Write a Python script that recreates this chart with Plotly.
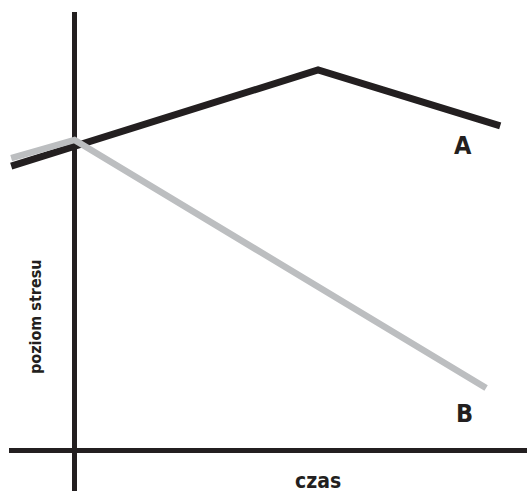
import plotly.graph_objects as go

# time (x) and stress level (y) in chart units
time_a = [-1.30, 5.00, 8.74]
stress_a = [7.47, 10.00, 8.53]
time_b = [-1.30, 0.00, 8.45]
stress_b = [7.68, 8.16, 1.63]
series_labels = ["A", "B"]
axis_titles = ["czas", "poziom stresu"]

BLACK = "#231f20"
GREY = "#bcbec0"
FONT = "DejaVu Sans Condensed, DejaVu Sans, sans-serif"

fig = go.Figure()
fig.add_trace(go.Scatter(x=time_a, y=stress_a, mode="lines",
                         line=dict(color=BLACK, width=7), cliponaxis=False,
                         hoverinfo="skip"))
fig.add_trace(go.Scatter(x=time_b, y=stress_b, mode="lines",
                         line=dict(color=GREY, width=6.5), cliponaxis=False,
                         hoverinfo="skip"))

fig.add_annotation(x=time_a[-1] - 0.76, y=stress_a[-1] - 0.53, text=series_labels[0],
                   showarrow=False, xanchor="center", yanchor="middle",
                   font=dict(family=FONT, size=25, color=BLACK, weight="bold"))
fig.add_annotation(x=time_b[-1] - 0.45, y=stress_b[-1] - 0.66, text=series_labels[1],
                   showarrow=False, xanchor="center", yanchor="middle",
                   font=dict(family=FONT, size=25, color=BLACK, weight="bold"))
fig.add_annotation(x=5.0, xref="x", y=0.02, yref="paper", text=axis_titles[0],
                   showarrow=False, xanchor="center", yanchor="middle",
                   font=dict(family=FONT, size=21, color=BLACK, weight="bold"))
fig.add_annotation(x=0.05, xref="paper", y=0.365, yref="paper", text=axis_titles[1],
                   showarrow=False, xanchor="center", yanchor="middle", textangle=-90,
                   font=dict(family=FONT, size=16, color=BLACK, weight="bold"))

fig.update_layout(
    width=527, height=494,
    margin=dict(l=9, r=0, t=12, b=3),
    paper_bgcolor="white", plot_bgcolor="white",
    showlegend=False,
    xaxis=dict(range=[-1.345, 9.29], showgrid=False, showticklabels=False,
               ticks="", zeroline=True, zerolinecolor=BLACK, zerolinewidth=5,
               fixedrange=True),
    yaxis=dict(range=[-1.079, 11.526], showgrid=False, showticklabels=False,
               ticks="", zeroline=True, zerolinecolor=BLACK, zerolinewidth=5,
               fixedrange=True),
)
fig.write_html("out.html", config={"displayModeBar": False},
               post_script="document.body.style.margin='0';")
